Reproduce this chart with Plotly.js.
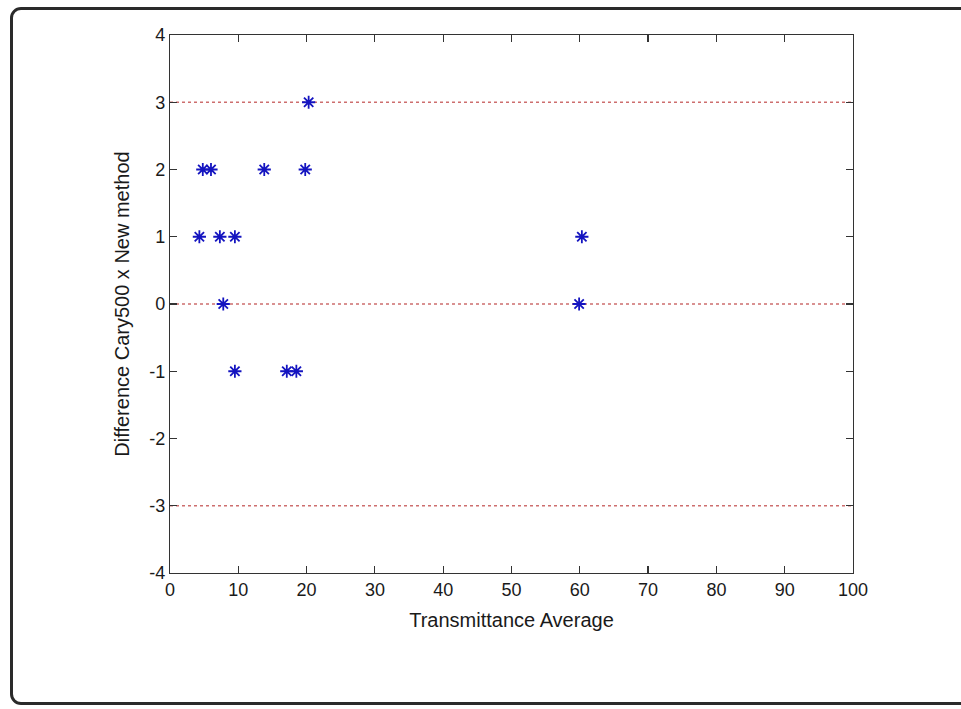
<!DOCTYPE html>
<html>
<head>
<meta charset="utf-8">
<script src="https://cdn.plot.ly/plotly-3.0.1.min.js"></script>
<style>
  html, body { margin: 0; padding: 0; background: #fff; overflow: hidden; }
  #wrap { position: relative; width: 961px; height: 709px; }
  #chart { position: absolute; left: 0; top: 0; width: 961px; height: 709px; }
  #frame { position: absolute; left: 10px; top: 7px; width: 970px; height: 698px;
           border: 3px solid #2a2a2a; border-radius: 11px; pointer-events: none; box-sizing: border-box; }
</style>
</head>
<body>
<div id="wrap">
  <div id="chart"></div>
  <div id="frame"></div>
</div>
<script>
// Data
const avgValues  = [20.3, 4.8, 6.0, 13.8, 19.8, 4.3, 7.3, 9.5, 7.8, 9.5, 17.1, 18.5, 60.3, 59.9];
const diffValues = [3, 2, 2, 2, 2, 1, 1, 1, 0, -1, -1, -1, 1, 0];
const refLevels  = [3, 0, -3];
const xTickVals  = [0, 10, 20, 30, 40, 50, 60, 70, 80, 90, 100];
const xTickText  = ["0", "10", "20", "30", "40", "50", "60", "70", "80", "90", "100"];
const yTickVals  = [-4, -3, -2, -1, 0, 1, 2, 3, 4];
const yTickText  = ["-4", "-3", "-2", "-1", "0", "1", "2", "3", "4"];
const xRange = [0, 100];
const yRange = [-4, 4];
const xTitle = "Transmittance Average";
const yTitle = "Difference Cary500 x New method";

const traces = [];
refLevels.forEach(function (lvl) {
  traces.push({
    x: xRange, y: [lvl, lvl], mode: "lines", type: "scatter",
    line: { color: "rgb(205,110,110)", width: 1.3, dash: "dot" },
    hoverinfo: "skip", showlegend: false
  });
});
traces.push({
  x: avgValues, y: diffValues, mode: "markers", type: "scatter",
  marker: { symbol: "asterisk-open", size: 11, color: "#1414c0",
            line: { color: "#1414c0", width: 1.8 } },
  showlegend: false
});

const axisCommon = {
  showgrid: false, zeroline: false, showline: true, mirror: "ticks",
  linecolor: "#333", linewidth: 1.2, ticks: "inside", ticklen: 7,
  tickcolor: "#333", tickwidth: 1.2, tickmode: "array",
  tickfont: { family: "Liberation Sans, Arial, sans-serif", size: 18, color: "#1a1a1a" }
};

const layout = {
  width: 961, height: 709,
  margin: { l: 170, r: 108, t: 35, b: 136 },
  paper_bgcolor: "#fff", plot_bgcolor: "#fff",
  font: { family: "Liberation Sans, Arial, sans-serif", color: "#1a1a1a" },
  xaxis: Object.assign({}, axisCommon, {
    range: xRange, tickvals: xTickVals, ticktext: xTickText,
    title: { text: xTitle, font: { size: 20 }, standoff: 14 }
  }),
  yaxis: Object.assign({}, axisCommon, {
    range: yRange, tickvals: yTickVals, ticktext: yTickText,
    title: { text: yTitle, font: { size: 20 }, standoff: 14 }
  })
};

Plotly.newPlot("chart", traces, layout, { staticPlot: true, displayModeBar: false });
</script>
</body>
</html>
